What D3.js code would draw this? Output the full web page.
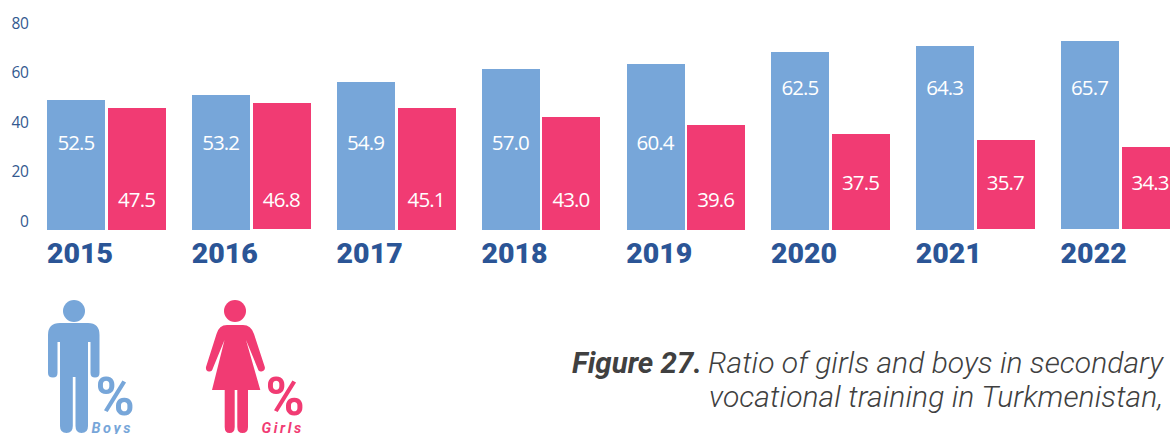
<!DOCTYPE html>
<html><head><meta charset="utf-8">
<style>html,body{margin:0;padding:0;background:#fff;overflow:hidden}svg{display:block}</style>
<script src="https://cdn.jsdelivr.net/npm/d3@7"></script></head>
<body><svg id="c" width="1170" height="434"></svg>
<script>
const years = [2015,2016,2017,2018,2019,2020,2021,2022];
const boysLabels = ["52.5","53.2","54.9","57.0","60.4","62.5","64.3","65.7"];
const girlsLabels = ["47.5","46.8","45.1","43.0","39.6","37.5","35.7","34.3"];
// Bars as drawn in the picture (the drawn heights differ from the printed labels)
const boysDrawn = [52.5,54.5,59.8,65.1,67.1,71.9,74.3,76.4];
const girlsDrawn = [49.3,51.3,49.3,45.7,42.4,38.8,36.4,33.5];
const boysBase = [0,0,0,0,0,0,0,0.4];
const girlsBase = [0,0.4,0,0,0,0,0.4,0.4];
const yTicks = [0,20,40,60,80];

const BLUE="#77a6d9", PINK="#f13b73", NAVY="#2b5596", AXIS="#33598f", INK="#404040";
const svg=d3.select("#c");
const y=d3.scaleLinear().domain([0,80]).range([230,32]);
const x=d3.scalePoint().domain(years).range([47.4,1061]);
const xG=d3.scalePoint().domain(years).range([108,1121.6]);
const barW=58;
const ry=v=>Math.round(y(v));

svg.append("g").selectAll("text").data(yTicks).join("text")
  .attr("x",28.5).attr("y",d=>y(d)-9).attr("dy","0.36em").attr("text-anchor","end")
  .attr("font-family","'Open Sans'").attr("font-size",15.5).attr("letter-spacing",-0.4).attr("fill",AXIS).text(d=>d);

const groups=svg.append("g").selectAll("g").data(years).join("g");
groups.append("rect").attr("x",d=>Math.round(x(d))).attr("width",barW)
  .attr("y",(d,i)=>ry(boysDrawn[i])).attr("height",(d,i)=>ry(boysBase[i])-ry(boysDrawn[i]))
  .attr("fill",BLUE);
groups.append("rect").attr("x",d=>Math.round(xG(d))).attr("width",barW)
  .attr("y",(d,i)=>ry(girlsDrawn[i])).attr("height",(d,i)=>ry(girlsBase[i])-ry(girlsDrawn[i]))
  .attr("fill",PINK);
const valueStyle=s=>s.attr("text-anchor","middle").attr("dy","0.36em")
  .attr("font-family","'Open Sans'").attr("font-size",20.5).attr("letter-spacing",-0.9).attr("fill","#fff");
groups.append("text").attr("x",d=>x(d)+barW/2-0.5).attr("y",(d,i)=>i<5?143:88)
  .call(valueStyle).text((d,i)=>boysLabels[i]);
groups.append("text").attr("x",d=>xG(d)+barW/2-0.5).attr("y",(d,i)=>i<5?200:183)
  .call(valueStyle).text((d,i)=>girlsLabels[i]);
groups.append("text").attr("x",d=>x(d)-0.4).attr("y",263)
  .attr("font-family","Roboto").attr("font-weight",900).attr("font-size",28.5)
  .attr("fill",NAVY).text(d=>d);

const man=svg.append("g").attr("fill",BLUE);
man.append("circle").attr("cx",74).attr("cy",311).attr("r",11);
man.append("path").attr("d","M60 323 H88 Q99.5 323 99.5 335 V373 Q99.5 377.5 95 377.5 Q90.5 377.5 90.5 373 V342 H88 V426 Q88 433 81.5 433 Q75.5 433 75.5 426 V377 H72.8 V426 Q72.8 433 66.5 433 Q60 433 60 426 V342 H57.5 V373 Q57.5 377.5 53 377.5 Q48 377.5 48 373 V335 Q48 323 60 323 Z");
const wom=svg.append("g").attr("fill",PINK);
wom.append("circle").attr("cx",235).attr("cy",311).attr("r",11);
wom.append("path").attr("d","M227 325 H243 Q251 325 254 334 L264.8 367 Q265.5 371 261.5 371.5 Q258.5 372 257.5 368 L246 340 L260.3 390 H248 V427 Q248 433 242.5 433 Q237.3 433 237.3 427 V390 H234.7 V427 Q234.7 433 229.5 433 Q224.7 433 224.7 427 V390 H212 L224.5 340 L213 368 Q212 372 209 371.5 Q205.5 371 206 367 L216.5 334 Q219 325 227 325 Z");

const pct=(px,c,label,lx)=>{
  svg.append("text").attr("x",px).attr("y",415).attr("font-family","Roboto").attr("font-weight",700)
    .attr("font-size",53).attr("fill",c).text("%");
  svg.append("text").attr("x",lx).attr("y",433).attr("font-family","Roboto").attr("font-weight",700)
    .attr("font-style","italic").attr("font-size",14.5).attr("letter-spacing",2.6).attr("fill",c).text(label);
};
pct(95.5,BLUE,"Boys",91.5);
pct(265.5,PINK,"Girls",261.5);

const cap=svg.append("g").attr("font-family","Roboto").attr("font-style","italic").attr("font-size",30).attr("fill",INK);
cap.append("text").attr("x",572).attr("y",373).attr("font-weight",700).attr("font-size",29.5).text("Figure 27.");
cap.append("text").attr("x",708).attr("y",373).attr("font-weight",300).attr("textLength",455).text("Ratio of girls and boys in secondary");
cap.append("text").attr("x",709).attr("y",407).attr("font-weight",300).attr("textLength",454).text("vocational training in Turkmenistan,");
</script></body></html>
